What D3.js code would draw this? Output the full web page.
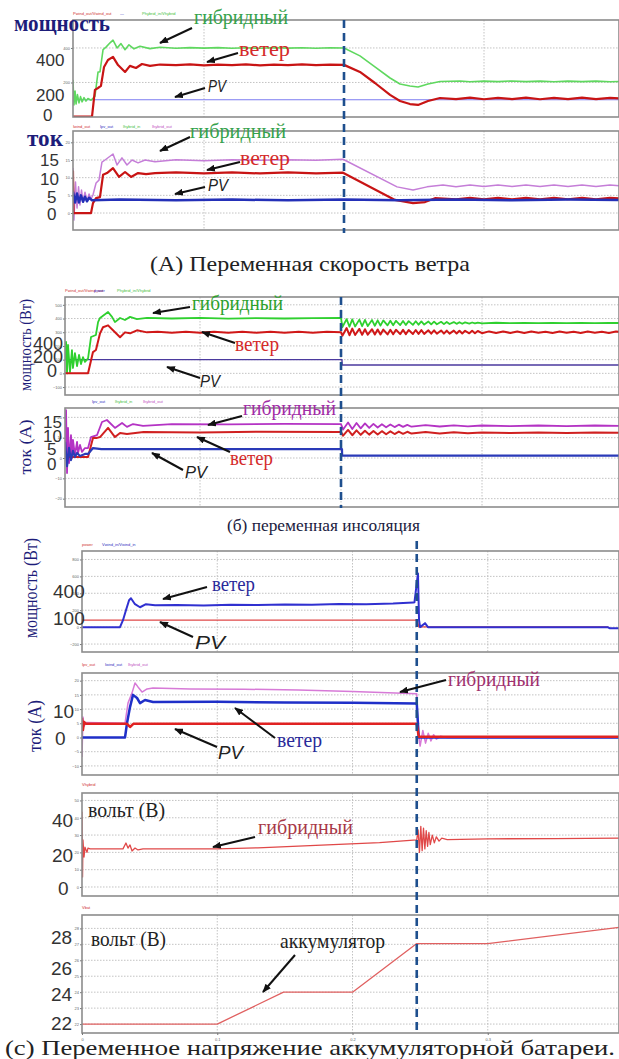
<!DOCTYPE html>
<html><head><meta charset="utf-8">
<script src="https://cdn.jsdelivr.net/npm/d3@7"></script>
<style>body{margin:0;background:#fff}svg{display:block}</style>
</head><body>
<svg id="c" width="619" height="1059"></svg>
<script>
// ---------------- DATA (time in s, values in chart units) ----------------
const timeTicks = [0, 0.1, 0.2, 0.3];

// (A) variable wind speed : power
const A_pow_hyb = [[0.0064,215],[0.0071,70],[0.0079,150],[0.0086,75],[0.0096,130],[0.0107,82],[0.0118,118],[0.0129,88],[0.0143,112],[0.0157,92],[0.0171,107],[0.0193,97],[0.0221,120],[0.0243,260],[0.0257,262],[0.0279,390],[0.030,405],[0.0329,430],[0.035,445],[0.0379,400],[0.0407,425],[0.0436,390],[0.0464,418],[0.050,395],[0.0543,410],[0.0614,396],[0.0686,404],[0.08,398],[0.09,402],[0.10,399],[0.11,402],[0.12,398],[0.13,401],[0.14,398],[0.15,402],[0.16,399],[0.17,401],[0.18,398],[0.19,401],[0.20,400],[0.2114,354],[0.2221,290],[0.2329,226],[0.24,191],[0.2471,180],[0.2529,174],[0.26,191],[0.2686,206],[0.2829,209],[0.29,204],[0.30,208],[0.31,205],[0.32,209],[0.33,205],[0.34,208],[0.35,204],[0.36,208],[0.37,205],[0.38,208],[0.39,204],[0.40,207]];
const A_pow_wind = [[0.0064,2],[0.020,2],[0.0221,157],[0.0243,168],[0.0264,180],[0.0286,290],[0.0314,330],[0.035,348],[0.0386,301],[0.0436,261],[0.0471,296],[0.0514,284],[0.0557,307],[0.0614,296],[0.0686,304],[0.08,300],[0.09,305],[0.10,299],[0.11,304],[0.12,300],[0.13,305],[0.14,299],[0.15,304],[0.16,300],[0.17,305],[0.18,300],[0.19,304],[0.20,302],[0.2114,261],[0.2221,197],[0.2329,128],[0.24,93],[0.2471,75],[0.2529,70],[0.26,93],[0.2686,110],[0.28,104],[0.29,112],[0.30,103],[0.31,111],[0.32,104],[0.33,112],[0.34,103],[0.35,111],[0.36,104],[0.37,112],[0.38,104],[0.39,111],[0.40,106]];
const A_pow_pv = [[0.0064,100],[0.40,100]];

// (A) current
const A_cur_hyb = [[0.0064,12.7],[0.0071,-2],[0.0082,8.8],[0.0093,1.4],[0.0104,7.4],[0.0114,2.3],[0.0125,6.5],[0.0136,3.1],[0.015,5.9],[0.0164,3.4],[0.0179,5.4],[0.0193,4],[0.0207,5.1],[0.0229,8.5],[0.025,9.3],[0.0271,14.4],[0.0293,15],[0.035,16.7],[0.0379,13.6],[0.0414,15.6],[0.045,13.6],[0.0486,15],[0.0529,14.2],[0.0579,15],[0.065,14.5],[0.08,15.1],[0.10,14.8],[0.12,15.1],[0.14,14.9],[0.16,15.1],[0.18,14.9],[0.1993,15.2],[0.2379,7.4],[0.2493,6.5],[0.2593,7.4],[0.2707,7.9],[0.28,7.4],[0.29,7.9],[0.30,7.5],[0.31,7.9],[0.32,7.5],[0.33,7.9],[0.34,7.5],[0.35,7.9],[0.36,7.5],[0.37,7.9],[0.38,7.5],[0.39,7.9],[0.40,7.6]];
const A_cur_wind = [[0.0064,12],[0.0068,0],[0.0193,0],[0.0207,2.8],[0.0229,4.2],[0.0257,4.5],[0.0279,10.8],[0.0307,11.3],[0.035,12.7],[0.0393,10.2],[0.0436,11.6],[0.0479,10.2],[0.0529,11.3],[0.0586,11],[0.065,11.3],[0.08,11.5],[0.10,11.2],[0.12,11.5],[0.14,11.2],[0.16,11.5],[0.18,11.2],[0.1993,11.4],[0.2364,3.7],[0.2493,2.8],[0.2579,3.1],[0.265,4.2],[0.28,3.9],[0.29,4.3],[0.30,3.9],[0.31,4.3],[0.32,3.9],[0.33,4.3],[0.34,3.9],[0.35,4.3],[0.36,3.9],[0.37,4.3],[0.38,3.9],[0.39,4.3],[0.40,4.1]];
const A_cur_pv = [[0.0064,6],[0.0079,3],[0.0093,5.5],[0.0107,3],[0.0121,5],[0.0136,3.2],[0.015,4.6],[0.0164,3.3],[0.0179,4.3],[0.020,3.6],[0.04,3.8],[0.08,3.6],[0.12,3.8],[0.16,3.6],[0.20,3.8],[0.24,3.6],[0.28,3.8],[0.32,3.6],[0.36,3.8],[0.40,3.7]];

// (б) variable insolation : power
const B_pow_hyb = [[0.0043,100],[0.005,229],[0.0057,0],[0.0064,207],[0.0078,9],[0.0092,170],[0.0099,39],[0.0113,147],[0.0128,53],[0.0142,134],[0.0156,68],[0.017,118],[0.0184,84],[0.0199,100],[0.0206,110],[0.0227,265],[0.0262,280],[0.0277,374],[0.0291,404],[0.0348,448],[0.0376,412],[0.0397,374],[0.0433,404],[0.0468,389],[0.0504,412],[0.0553,396],[0.0624,404],[0.08,400],[0.10,404],[0.12,399],[0.14,403],[0.16,400],[0.18,403],[0.20,405],
 [0.201,338],[0.204,396],[0.206,340],[0.208,394],[0.210,342],[0.213,392],[0.215,344],[0.217,390],[0.219,345],[0.222,389],[0.224,347],[0.226,387],[0.228,348],[0.230,386],[0.233,350],[0.235,384],[0.237,351],[0.239,383],[0.242,352],[0.244,382],[0.246,353],[0.248,381],[0.251,354],[0.253,380],[0.255,355],[0.257,379],[0.259,356],[0.262,378],[0.264,357],[0.266,377],[0.268,358],[0.271,376],[0.273,359],[0.275,375],[0.277,360],[0.280,374],[0.282,361],[0.284,373],[0.286,362],[0.288,372],[0.291,363],[0.293,371],[0.295,364],[0.297,370],[0.300,365],[0.31,369],[0.32,366],[0.33,368],[0.34,366],[0.35,368],[0.36,366],[0.37,368],[0.38,366],[0.39,368],[0.40,367]];
const B_pow_wind = [[0.0043,0],[0.0206,0],[0.0241,155],[0.0262,170],[0.0291,292],[0.0312,336],[0.0348,350],[0.0383,314],[0.0433,263],[0.0468,299],[0.0504,292],[0.0553,314],[0.0624,299],[0.07,303],[0.08,297],[0.09,304],[0.10,296],[0.11,303],[0.12,297],[0.13,304],[0.14,296],[0.15,303],[0.16,297],[0.17,304],[0.18,296],[0.19,303],[0.20,300],
 [0.201,275],[0.204,330],[0.206,278],[0.208,326],[0.210,280],[0.213,324],[0.215,281],[0.217,322],[0.219,282],[0.222,322],[0.224,283],[0.226,320],[0.228,284],[0.230,319],[0.233,284],[0.235,318],[0.237,285],[0.239,318],[0.242,286],[0.244,317],[0.246,286],[0.248,316],[0.251,287],[0.253,316],[0.255,288],[0.257,315],[0.259,288],[0.262,314],[0.264,289],[0.266,314],[0.268,289],[0.271,313],[0.273,290],[0.275,312],[0.277,290],[0.280,312],[0.282,291],[0.284,311],[0.286,291],[0.288,310],[0.291,292],[0.293,310],[0.295,292],[0.297,309],[0.300,293],[0.305,306],[0.31,294],[0.315,305],[0.32,295],[0.325,306],[0.33,294],[0.335,305],[0.34,296],[0.345,304],[0.35,295],[0.355,305],[0.36,296],[0.365,304],[0.37,295],[0.375,305],[0.38,296],[0.385,304],[0.39,295],[0.395,305],[0.40,300]];
const B_pow_pv = [[0.0043,100],[0.2007,100],[0.2008,61],[0.40,61]];

// (б) current
const B_cur_hyb = [[0.0043,5],[0.005,23.6],[0.0057,-7.4],[0.0064,14.8],[0.0071,-2.5],[0.0085,11.3],[0.0092,0],[0.0099,8.9],[0.0113,1.5],[0.0128,7.9],[0.0135,2.5],[0.0149,6.4],[0.0163,3],[0.0184,4.9],[0.0206,4.9],[0.0227,10.3],[0.027,11.3],[0.0305,17.7],[0.034,18.7],[0.0397,14.8],[0.0447,17.2],[0.0482,15.3],[0.0525,16.7],[0.0596,15.8],[0.08,16.7],[0.12,16.5],[0.16,16.8],[0.20,16.7],
 [0.2015,14],[0.205,17.5],[0.208,14.3],[0.211,17.2],[0.214,14.6],[0.217,17],[0.220,14.8],[0.223,16.8],[0.226,15],[0.229,16.6],[0.232,15.1],[0.235,16.5],[0.238,15.2],[0.241,16.4],[0.244,15.3],[0.247,16.3],[0.25,15.4],[0.26,16.2],[0.27,15.5],[0.28,16.1],[0.29,15.6],[0.30,16],[0.32,15.7],[0.34,16],[0.36,15.7],[0.38,16],[0.40,15.8]];
const B_cur_wind = [[0.0043,0.5],[0.0206,0.5],[0.0241,9.9],[0.027,9.9],[0.0291,10.3],[0.0348,14.8],[0.0397,10.3],[0.0433,12.3],[0.0482,11.8],[0.06,12.8],[0.10,12.6],[0.14,12.9],[0.20,12.8],
 [0.2015,11],[0.205,13.8],[0.208,11.2],[0.211,13.6],[0.214,11.4],[0.217,13.4],[0.220,11.5],[0.223,13.3],[0.226,11.6],[0.229,13.2],[0.232,11.7],[0.235,13.1],[0.238,11.8],[0.241,13],[0.244,11.9],[0.247,12.9],[0.25,12],[0.26,12.8],[0.27,12.1],[0.28,12.7],[0.29,12.2],[0.30,12.6],[0.32,12.3],[0.34,12.6],[0.36,12.3],[0.38,12.6],[0.40,12.4]];
const B_cur_pv = [[0.0043,8],[0.0057,-4],[0.0071,5],[0.0085,-1],[0.0099,3.5],[0.0113,0.5],[0.0128,2.5],[0.0149,1],[0.0184,2],[0.0206,2],[0.0241,4.9],[0.03,4.4],[0.2007,4.4],[0.2008,1.2],[0.40,1.2]];

// (c) variable battery voltage : power
const C_pow_wind = [[0,0],[0.0281,0],[0.0303,82],[0.0325,200],[0.0348,318],[0.0362,341],[0.0392,271],[0.0429,235],[0.0473,271],[0.054,259],[0.07,262],[0.09,257],[0.11,265],[0.13,262],[0.15,268],[0.17,265],[0.19,272],[0.21,270],[0.23,278],[0.245,290],[0.2458,294],[0.2484,635],[0.2492,82],[0.25,0],[0.2536,47],[0.2558,0],[0.30,-2],[0.35,-2],[0.389,-2],[0.39,-12],[0.40,-12]];
const C_pow_pv = [[0,82],[0.248,82],[0.249,4],[0.389,4]];
// current
const C_cur_hyb = [[0,-6.9],[0.0007,7.2],[0.0015,4],[0.003,5.3],[0.0318,5],[0.034,12.1],[0.037,15.7],[0.0392,19.2],[0.0414,17.8],[0.0444,16],[0.0481,17.1],[0.0525,17.4],[0.08,17.1],[0.12,17],[0.16,16.7],[0.20,16.2],[0.2475,15.4],[0.2485,2],[0.25,-3],[0.252,2.5],[0.254,-2],[0.256,1.5],[0.258,-1.2],[0.26,1],[0.262,-0.6],[0.265,0.4],[0.27,0],[0.40,0]];
const C_cur_wind = [[0,0],[0.0318,0],[0.0333,5.1],[0.0355,10.7],[0.0377,15],[0.0407,13.9],[0.0429,12.1],[0.0466,13.2],[0.0525,12.5],[0.10,12.6],[0.15,12.3],[0.20,12.2],[0.2475,12],[0.249,0],[0.40,0]];
const C_cur_pv = [[0,6.9],[0.0007,2.6],[0.0015,5.5],[0.003,4.8],[0.0333,4.8],[0.0355,3.7],[0.038,4.8],[0.10,4.8],[0.2475,4.8],[0.249,0.3],[0.40,0.3]];
// hybrid voltage
const C_volt = [[0,43.4],[0.0004,5.8],[0.0007,27.2],[0.0015,17.3],[0.0022,23],[0.0037,20],[0.0044,22.5],[0.006,22],[0.0303,22],[0.0325,25.4],[0.034,22.5],[0.0355,24.3],[0.037,20.8],[0.0392,22.5],[0.0414,21.4],[0.0451,22],[0.10,22],[0.13,22.6],[0.16,23.6],[0.19,24.6],[0.22,25.6],[0.2475,27.2],[0.2485,33],[0.2495,20],[0.2505,35],[0.2515,21],[0.2525,34],[0.2535,22],[0.2545,32.5],[0.2555,23.5],[0.2565,31.5],[0.2575,24.5],[0.259,30],[0.2605,25.5],[0.262,29],[0.264,26.5],[0.266,28.2],[0.27,27.4],[0.30,27.8],[0.35,28],[0.40,28.3]];
// battery voltage
const C_batt = [[0,22],[0.1,22],[0.149,24],[0.2,24],[0.2475,27.05],[0.3,27.05],[0.4,28.1]];

// tick label texts (overlaid big labels)
const A_pow_ticks = ["400","200","0"];
const A_cur_ticks = ["15","10","5","0"];
const B_pow_ticks = ["400","200","0"];
const B_cur_ticks = ["15","10","5","0"];
const C_pow_ticks = ["400","100"];
const C_cur_ticks = ["10","0"];
const C_volt_ticks = ["40","20","0"];
const C_batt_ticks = ["28","26","24","22"];

// ---------------- LAYOUT ----------------
const SERIF = "'Liberation Serif','DejaVu Serif',serif";
const SANS = "'Liberation Sans','DejaVu Sans',sans-serif";
const NAVY = "#1d1d7a";

const panels = [
 {id:"Apow", box:[73,20,619,117], xr:[64,624], yd:[0,562], yg:[200,400], xg:[0.1,0.3],
  series:[[A_pow_pv,"#7b7bf0",1.2],[A_pow_hyb,"#5fd85f",1.6],[A_pow_wind,"#c81414",2.2]]},
 {id:"Acur", box:[73,131,619,230], xr:[64,624], yd:[-4.8,23.2], yg:[0,5,10,15,20], xg:[0.1,0.3],
  series:[[A_cur_hyb,"#c57ed8",1.5],[A_cur_wind,"#c81414",2.2],[A_cur_pv,"#2430b8",2.5]]},
 {id:"Bpow", box:[65,297,619,395], xr:[59,623], yd:[-158,557], yg:[-100,0,100,200,300,400,500], xg:[0.1,0.2,0.3],
  series:[[B_pow_pv,"#4b3a9e",1.4],[B_pow_hyb,"#2fd02f",1.8],[B_pow_wind,"#d01818",2]]},
 {id:"Bcur", box:[65,408,619,507], xr:[59,623], yd:[-24.1,24.6], yg:[-20,-10,0,10,20], xg:[0.1,0.2,0.3],
  series:[[B_cur_hyb,"#b433c4",1.8],[B_cur_wind,"#d02020",2],[B_cur_pv,"#2a3ab8",2.2]]},
 {id:"Cpow", box:[82,551,619,652], xr:[82,623], yd:[-294,900], yg:[-200,0,200,400,600,800], xg:[0.1,0.2,0.3],
  series:[[C_pow_pv,"#e04848",1.2],[C_pow_wind,"#3030d0",2]]},
 {id:"Ccur", box:[82,673,619,775], xr:[82,623], yd:[-13.2,22.7], yg:[-10,-5,0,5,10,15,20], xg:[0.1,0.2,0.3],
  series:[[C_cur_hyb,"#d77ad7",1.5],[C_cur_wind,"#1f2fc8",2.5],[C_cur_pv,"#e02222",2.5]]},
 {id:"Cvolt", box:[82,793,619,896], xr:[82,623], yd:[-5.2,54.3], yg:[0,10,20,30,40,50], xg:[0.1,0.2,0.3],
  series:[[C_volt,"#e04848",1.3]]},
 {id:"Cbatt", box:[82,915,619,1033], xr:[82,623], yd:[21.44,28.84], yg:[22,23,24,25,26,27,28], xg:[0.1,0.2,0.3],
  series:[[C_batt,"#e06060",1.3]], timeAxis:true}
];

// dashed event markers: [panel id for x-scale, t, y1, y2]
const markers = [["Apow",0.2,20,233],["Bpow",0.2,297,508],["Cpow",0.2475,541,1034]];

// big overlaid tick labels: [texts, x positions, baselines, size]
const bigTicks = [
 [A_pow_ticks,[36,36,43],[66,101,121],17],
 [A_cur_ticks,[40,40,47,47],[166,185,203,220],17],
 [B_pow_ticks,[33,33,47],[350,363,377],18],
 [B_cur_ticks,[43,43,47,47],[428,442,455,470],17],
 [C_pow_ticks,[53,53],[598,625],19],
 [C_cur_ticks,[53,55],[718,745],19],
 [C_volt_ticks,[52,52,58],[827,862,895],19],
 [C_batt_ticks,[51,51,51,51],[944,975,1001,1030],19]
];

// text annotations: [text, x, y, size, color, family, weight, style, textLength, rotate]
const texts = [
 ["мощность",14,31,23,NAVY,SERIF,"bold","normal",96,0],
 ["гибридный",194,24,22,"#35a24b",SERIF,"normal","normal",94,0],
 ["ветер",239,56,22,"#d42a2a",SERIF,"normal","normal",51,0],
 ["PV",208,92,17,"#222",SANS,"normal","italic",18,0],
 ["ток",27,146,23,NAVY,SERIF,"bold","normal",36,0],
 ["гибридный",190,138,22,"#35a24b",SERIF,"normal","normal",96,0],
 ["ветер",240,165,22,"#d42a2a",SERIF,"normal","normal",50,0],
 ["PV",208,191,17,"#222",SANS,"normal","italic",20,0],
 ["(A) Переменная скорость ветра",150,271,22,"#222",SERIF,"normal","normal",320,0],
 ["мощность (Вт)",25,345,17,NAVY,SERIF,"normal","normal",92,-90],
 ["гибридный",192,310,22,"#2ca02c",SERIF,"normal","normal",91,0],
 ["ветер",235,351,21,"#d42a2a",SERIF,"normal","normal",44,0],
 ["PV",200,387,16,"#222",SANS,"normal","italic",20,0],
 ["ток (А)",25,447,17,NAVY,SERIF,"normal","normal",55,-90],
 ["гибридный",243,415,22,"#a12ca6",SERIF,"normal","normal",93,0],
 ["ветер",230,465,21,"#d42a2a",SERIF,"normal","normal",43,0],
 ["PV",185,478,16,"#222",SANS,"normal","italic",22,0],
 ["(б) переменная инсоляция",227,531,16,"#1a1a40",SERIF,"normal","normal",193,0],
 ["мощность (Вт)",31,588,18,NAVY,SERIF,"normal","normal",100,-90],
 ["ветер",212,591,21,"#2a2a9a",SERIF,"normal","normal",43,0],
 ["PV",195,649,18,"#222",SANS,"normal","italic",30,0],
 ["ток (А)",35,726,18,NAVY,SERIF,"normal","normal",52,-90],
 ["гибридный",448,686,21,"#a0306e",SERIF,"normal","normal",92,0],
 ["ветер",277,747,21,"#2a2a9a",SERIF,"normal","normal",45,0],
 ["PV",218,759,18,"#222",SANS,"normal","italic",25,0],
 ["вольт (В)",88,817,21,"#222",SERIF,"normal","normal",77,0],
 ["гибридный",258,834,21,"#a83848",SERIF,"normal","normal",95,0],
 ["вольт (В)",91,946,21,"#222",SERIF,"normal","normal",75,0],
 ["аккумулятор",280,948,21,"#222",SERIF,"normal","normal",105,0],
 ["(c) Переменное напряжение аккумуляторной батареи.",5,1055,22,"#222",SERIF,"normal","normal",610,0]
];

// arrows: [x1,y1 (tail), x2,y2 (head)]
const arrows = [
 [192,28,160,43],[238,53,207,62],[205,88,175,97],
 [190,137,160,151],[240,162,207,170],[205,187,175,194],
 [190,307,153,313],[235,343,202,332],[200,378,167,367],
 [242,416,208,425],[230,452,197,437],[183,470,152,453],
 [207,587,163,599],[193,637,160,622],
 [446,680,400,692],[275,738,235,708],[217,747,175,729],
 [255,837,213,847],
 [295,955,263,992]
];

// tiny simulator legends: [text, x, y, color]
const legends = [
 ["Pwind_out/Vwind_out",73,15,"#d03030"],["—",120,15,"#3030c0"],["Phybrid_in/Vhybrid",142,15,"#40c040"],
 ["Iwind_out",73,128,"#d03030"],["Ipv_out",100,128,"#3030c0"],["Ihybrid_in",123,128,"#40c040"],["Ihybrid_out",152,128,"#c050c0"],
 ["Pwind_out/Vwind_out",65,292,"#d03030"],["power",94,292,"#3030c0"],["Phybrid_in/Vhybrid",117,292,"#40c040"],
 ["Ipv_out",92,403,"#3030c0"],["Ihybrid_in",115,403,"#40c040"],["Ihybrid_out",143,403,"#c050c0"],
 ["power",82,546,"#d03030"],["Vwind_in/Vwind_in",102,546,"#3030c0"],
 ["Ipv_out",82,666,"#d03030"],["Iwind_out",105,666,"#3030c0"],["Ihybrid_out",128,666,"#c050c0"],
 ["Vhybrid",82,786,"#d03030"],
 ["Vbat",82,909,"#d03030"]
];

// ---------------- DRAW ----------------
const svg = d3.select("#c");
svg.append("rect").attr("width",619).attr("height",1059).attr("fill","#fff");
const defs = svg.append("defs");
defs.append("marker").attr("id","ah").attr("viewBox","0 0 10 8").attr("refX",9).attr("refY",4)
  .attr("markerWidth",9).attr("markerHeight",7).attr("markerUnits","userSpaceOnUse").attr("orient","auto")
  .append("path").attr("d","M0,0 L10,4 L0,8 z").attr("fill","#111");

const xScales = {};
panels.forEach(p=>{
  const [x0,y0,x1,y1] = p.box;
  const x = d3.scaleLinear().domain([0,0.4]).range(p.xr);
  const y = d3.scaleLinear().domain(p.yd).range([y1,y0]);
  xScales[p.id] = x;
  const g = svg.append("g");
  defs.append("clipPath").attr("id","cl"+p.id).append("rect")
    .attr("x",x0).attr("y",y0).attr("width",x1-x0).attr("height",y1-y0);
  g.selectAll(".hg").data(p.yg).join("line")
    .attr("x1",x0).attr("x2",x1).attr("y1",d=>y(d)).attr("y2",d=>y(d))
    .attr("stroke","#bcbcbc").attr("stroke-width",0.9).attr("stroke-dasharray","1.5,1.5");
  g.selectAll(".vg").data(p.xg).join("line")
    .attr("x1",d=>x(d)).attr("x2",d=>x(d)).attr("y1",y0).attr("y2",y1)
    .attr("stroke","#bcbcbc").attr("stroke-width",0.9).attr("stroke-dasharray","1.5,1.5");
  const ax = g.append("g").attr("transform",`translate(${x0},0)`)
    .call(d3.axisLeft(y).tickValues(p.yg).tickSize(2).tickPadding(1).tickFormat(d3.format("d")));
  ax.select(".domain").remove();
  ax.selectAll("text").attr("font-size",4).attr("fill","#666").attr("font-family",SANS);
  ax.selectAll("line").attr("stroke","#777");
  const line = d3.line().x(d=>x(d[0])).y(d=>y(d[1]));
  const sg = g.append("g").attr("clip-path",`url(#cl${p.id})`);
  p.series.forEach(([data,color,w])=>{
    sg.append("path").attr("d",line(data)).attr("fill","none").attr("stroke",color)
      .attr("stroke-width",w).attr("stroke-linejoin","round");
  });
  g.append("rect").attr("x",x0).attr("y",y0).attr("width",x1-x0).attr("height",y1-y0)
    .attr("fill","none").attr("stroke","#8c8c8c").attr("stroke-width",1.6);
  if(p.timeAxis){
    const tx = g.append("g").attr("transform",`translate(0,${y1})`)
      .call(d3.axisBottom(x).tickValues(timeTicks).tickSize(2).tickPadding(3).tickFormat(d=>d===0?"0":String(d)));
    tx.select(".domain").remove();
    tx.selectAll("text").attr("font-size",4).attr("fill","#666").attr("font-family",SANS);
    tx.selectAll("line").attr("stroke","#777");
    g.append("text").attr("x",x(0.2)).attr("y",y1+14).attr("text-anchor","middle")
      .attr("font-size",4).attr("fill","#666").attr("font-family",SANS).text("Time (s)");
  }
});

svg.append("g").selectAll("line").data(markers).join("line")
  .attr("x1",d=>xScales[d[0]](d[1])).attr("x2",d=>xScales[d[0]](d[1]))
  .attr("y1",d=>d[2]).attr("y2",d=>d[3])
  .attr("stroke","#1e4f8e").attr("stroke-width",2.6).attr("stroke-dasharray","8,5");

svg.append("g").selectAll("text").data(legends).join("text")
  .attr("x",d=>d[1]).attr("y",d=>d[2]).attr("fill",d=>d[3]).attr("font-size",4)
  .attr("font-family",SANS).text(d=>d[0]);

bigTicks.forEach(([labs,xs,ys,sz])=>{
  svg.append("g").selectAll("text").data(labs).join("text")
    .attr("x",(d,i)=>xs[i]).attr("y",(d,i)=>ys[i]).attr("font-size",sz)
    .attr("font-family",SANS).attr("fill","#333").text(d=>d);
});

svg.append("g").selectAll("line").data(arrows).join("line")
  .attr("x1",d=>d[0]).attr("y1",d=>d[1]).attr("x2",d=>d[2]).attr("y2",d=>d[3])
  .attr("stroke","#111").attr("stroke-width",2).attr("marker-end","url(#ah)");

texts.forEach(([t,x,y,sz,col,fam,wt,st,tl,rot])=>{
  const el = svg.append("text").attr("font-size",sz).attr("fill",col).attr("font-family",fam)
    .attr("font-weight",wt).attr("font-style",st).text(t);
  if(tl){ el.attr("textLength",tl).attr("lengthAdjust","spacingAndGlyphs"); }
  if(rot){
    el.attr("transform",`translate(${x},${y}) rotate(${rot})`).attr("text-anchor","middle")
      .attr("dominant-baseline","central");
  } else {
    el.attr("x",x).attr("y",y);
  }
});
</script>
</body></html>
